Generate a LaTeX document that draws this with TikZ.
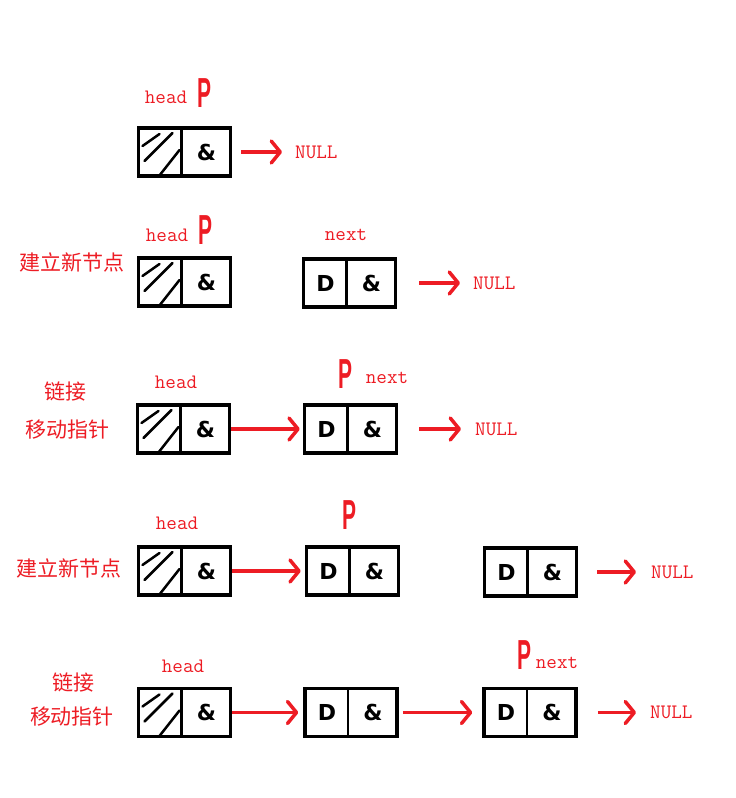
\documentclass[tikz,border=0pt]{standalone}
\usepackage{fontspec}
\setmainfont{Liberation Serif}
\newfontfamily\cjkfont{Noto Sans CJK SC}
\newfontfamily\cellfont{DejaVu Sans}
\newfontfamily\pfont{Liberation Sans}
\usetikzlibrary{arrows.meta}
\definecolor{mred}{RGB}{237, 28, 36}
\newcommand{\dcell}{\makebox[44pt]{D}\makebox[48pt]{\&}}
\newcommand{\hcell}{\makebox[44pt]{}\makebox[48pt]{\&}}
\tikzset{cell/.style = {draw, line width = 3.5pt, minimum width = 92, minimum height = 48,
                        inner sep = 0, font = \cellfont\bfseries\fontsize{22}{22}\selectfont,
                        path picture = {\draw [line width = 2.5pt]
                          ([xshift = -3pt]path picture bounding box.north) --
                          ([xshift = -3pt]path picture bounding box.south);}}}
\tikzset{headcell/.style = {cell,
                            path picture = {\draw [line width = 2.5pt]
                              ([xshift = -3pt]path picture bounding box.north) --
                              ([xshift = -3pt]path picture bounding box.south);
                              \draw [line width = 2.5pt, line cap = round]
                              ([shift = {(4pt, -18pt)}]path picture bounding box.north west) --
                              ([shift = {(21pt, -6pt)}]path picture bounding box.north west);
                              \draw [line width = 2.5pt, line cap = round]
                              ([shift = {(6pt, -33pt)}]path picture bounding box.north west) --
                              ([shift = {(34pt, -5pt)}]path picture bounding box.north west);
                              \draw [line width = 2.5pt, line cap = round]
                              ([shift = {(19pt, -50pt)}]path picture bounding box.north west) --
                              ([shift = {(41pt, -22pt)}]path picture bounding box.north west);}}}
\tikzset{lbl/.style = {text = mred, inner sep = 0, font = \ttfamily\fontsize{20.5}{20.5}\selectfont}}
\tikzset{ptr/.style = {text = mred, inner sep = 0, font = \pfont\bfseries\fontsize{42}{42}\selectfont}}
\tikzset{cjk/.style = {text = mred, inner sep = 0, font = \cjkfont\fontsize{21}{21}\selectfont}}
\tikzset{redarrow/.style = {mred, line width = 3.5pt,
                            -{Straight Barb[length = 9pt, width = 22pt, line join = round, line cap = round]}}}

\begin{document}
\begin{tikzpicture}[x = 1pt, y = -1pt]
      \useasboundingbox (0, 0) rectangle (736, 798);

      % empty list
      \node [headcell] (h1) at (184.5, 152) {\hcell};
      \node [lbl] (head1) at (166, 97) {head};
      \node [ptr] (p1) at (205, 93) {\scalebox{0.5}[1]{P}};
      \node [lbl, anchor = west] (null1) at (295, 152) {NULL};
      \draw [redarrow] ([xshift = 9pt]h1.east) -- ([xshift = -13pt]null1.west);

      % new node
      \node [cjk] (t2) at (72, 262) {建立新节点};
      \node [headcell] (h2) at (184.5, 282) {\hcell};
      \node [cell] (n2) at (349.5, 283) {\dcell};
      \node [lbl] (head2) at (167, 235) {head};
      \node [ptr] (p2) at (206, 230) {\scalebox{0.5}[1]{P}};
      \node [lbl] (next2) at (346, 235) {next};
      \node [lbl, anchor = west] (null2) at (473, 283) {NULL};
      \draw [redarrow] ([xshift = 22pt]n2.east) -- ([xshift = -13pt]null2.west);

      % link and move
      \node [cjk] (t3a) at (65, 392) {链接};
      \node [cjk] (t3b) at (67, 430) {移动指针};
      \node [headcell] (h3) at (183.5, 429) {\hcell};
      \node [cell] (n3) at (350.5, 429) {\dcell};
      \node [lbl] (head3) at (176, 382) {head};
      \node [ptr] (p3) at (346, 374) {\scalebox{0.5}[1]{P}};
      \node [lbl] (next3) at (387, 378) {next};
      \node [lbl, anchor = west] (null3) at (475, 429) {NULL};
      \draw [redarrow, shorten > = 3pt] (h3.east) -- (n3.west);
      \draw [redarrow] ([xshift = 21pt]n3.east) -- ([xshift = -14pt]null3.west);

      % new node
      \node [cjk] (t4) at (69, 568) {建立新节点};
      \node [headcell] (h4) at (184.5, 571) {\hcell};
      \node [cell] (n4) at (352.5, 571) {\dcell};
      \node [cell] (m4) at (530.5, 572) {\dcell};
      \node [lbl] (head4) at (177, 523) {head};
      \node [ptr] (p4) at (349, 515) {\scalebox{0.5}[1]{P}};
      \node [lbl, anchor = west] (null4) at (651, 572) {NULL};
      \draw [redarrow, shorten > = 4pt] (h4.east) -- (n4.west);
      \draw [redarrow] ([xshift = 19pt]m4.east) -- ([xshift = -15pt]null4.west);

      % link and move
      \node [cjk] (t5a) at (73, 683) {链接};
      \node [cjk] (t5b) at (72, 717) {移动指针};
      \node [headcell] (h5) at (184.5, 712.5) {\hcell};
      \node [cell] (n5) at (351, 712.5) {\dcell};
      \node [cell] (m5) at (530, 712.5) {\dcell};
      \node [lbl] (head5) at (183, 666) {head};
      \node [ptr] (p5) at (524, 655) {\scalebox{0.5}[1]{P}};
      \node [lbl] (next5) at (557, 663) {next};
      \node [lbl, anchor = west] (null5) at (650, 712.5) {NULL};
      \draw [redarrow, shorten > = 5pt] (h5.east) -- (n5.west);
      \draw [redarrow, shorten < = 4pt, shorten > = 10pt] (n5.east) -- (m5.west);
      \draw [redarrow] ([xshift = 20pt]m5.east) -- ([xshift = -14pt]null5.west);
\end{tikzpicture}
\end{document}
